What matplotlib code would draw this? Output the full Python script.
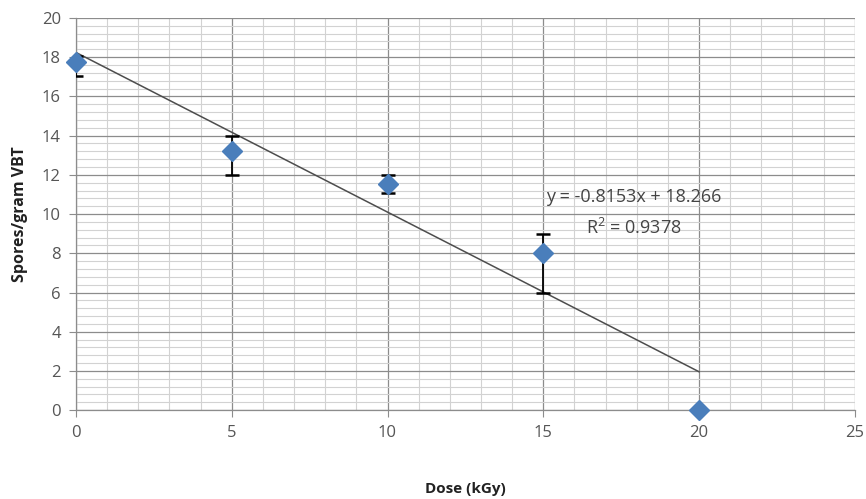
import numpy as np
import matplotlib
matplotlib.use("Agg")
import matplotlib.pyplot as plt
from matplotlib.ticker import MultipleLocator

dose = [0, 5, 10, 15, 20]
spores = [17.75, 13.2, 11.55, 8.0, 0.0]
err_low = [0.7, 1.2, 0.5, 2.0, 0.0]
err_high = [0.3, 0.8, 0.45, 1.0, 0.0]
x_ticks = [0, 5, 10, 15, 20, 25]
y_ticks = [0, 2, 4, 6, 8, 10, 12, 14, 16, 18, 20]
eq_text = "y = -0.8153x + 18.266"
r2_text = "R$^2$ = 0.9378"

plt.rcParams['font.family'] = ['Open Sans', 'DejaVu Sans']
plt.rcParams['mathtext.fontset'] = 'custom'
plt.rcParams['mathtext.rm'] = 'Open Sans'

fig = plt.figure(figsize=(8.66, 4.99), dpi=100)
ax = fig.add_axes([0.0878, 0.178, 0.8992, 0.786])

ax.set_xlim(0, 25)
ax.set_ylim(0, 20)
ax.xaxis.set_major_locator(MultipleLocator(5))
ax.xaxis.set_minor_locator(MultipleLocator(1))
ax.yaxis.set_major_locator(MultipleLocator(2))
ax.yaxis.set_minor_locator(MultipleLocator(0.4))
ax.set_xticks(x_ticks)
ax.set_yticks(y_ticks)

ax.grid(which='major', color='#8c8c8c', linewidth=0.9)
ax.grid(which='minor', color='#d2d2d2', linewidth=0.8)
ax.set_axisbelow(True)
for s in ['top', 'right']:
    ax.spines[s].set_visible(False)
for s in ['left', 'bottom']:
    ax.spines[s].set_color('#8c8c8c')
    ax.spines[s].set_linewidth(0.9)
ax.tick_params(which='major', length=5, color='#8c8c8c', labelcolor='#555555',
               labelsize=12, pad=6)
ax.tick_params(which='minor', length=0)

# trendline
coef = np.polyfit(dose, spores, 1)
xs = np.array([dose[0], dose[-1]])
ax.plot(xs, np.polyval(coef, xs), color='#4d4d4d', linewidth=1.1, zorder=2)

ax.errorbar(dose, spores, yerr=[err_low, err_high], fmt='none', ecolor='black',
            elinewidth=1.3, capsize=5, capthick=1.8, zorder=3)
ax.plot(dose, spores, linestyle='none', marker='D', markersize=10,
        color='#4a7ebb', markeredgecolor='#4a7ebb', zorder=4, clip_on=False)

ax.text(17.9, 10.87, eq_text, ha='center', va='center', fontsize=13, color='#444444')
ax.text(17.9, 9.29, r2_text, ha='center', va='center', fontsize=13, color='#444444')

ax.set_xlabel('Dose (kGy)', fontsize=11, fontweight='bold', color='#222222', labelpad=29)
ax.set_ylabel('Spores/gram VBT', fontsize=11.5, fontweight='bold', color='#222222', labelpad=10)

fig.savefig('out.png', dpi=100)
